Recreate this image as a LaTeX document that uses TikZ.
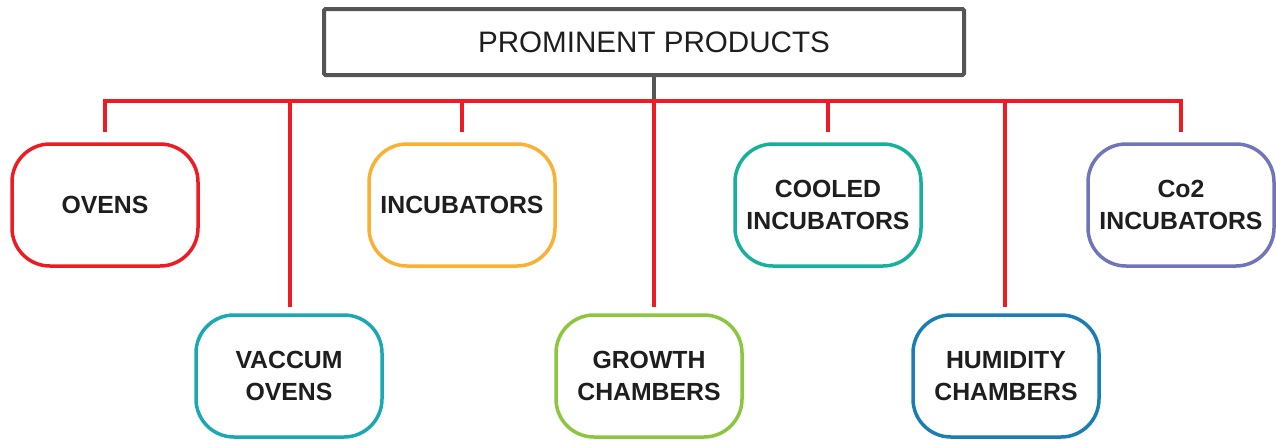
\documentclass[tikz,border=0pt]{standalone}
\usepackage{fontspec}
\setmainfont{Liberation Sans}
\definecolor{cred}{HTML}{ED1C24}
\definecolor{cgray}{HTML}{555555}
\definecolor{ctext}{HTML}{1E1E1E}
\definecolor{cteal}{HTML}{1AA9B2}
\definecolor{corange}{HTML}{F8B133}
\definecolor{cgreen}{HTML}{8CC63F}
\definecolor{cmint}{HTML}{17B09A}
\definecolor{cblue}{HTML}{1A7DB3}
\definecolor{cpurple}{HTML}{6F75B8}
\begin{document}
\begin{tikzpicture}[x=1pt,y=-1pt,
  prod/.style={draw=#1, line width=3.5pt, rounded corners=38pt, fill=white,
    minimum width=186pt, minimum height=122pt, align=center, text=ctext,
    font=\fontsize{24.8}{32}\selectfont\bfseries},
  titlebox/.style={draw=cgray, line width=4pt, rounded corners=1.5pt,
    minimum width=640pt, minimum height=66pt, text=ctext,
    font=\fontsize{29.6}{36}\selectfont},
  redline/.style={draw=cred, line width=3.5pt},
  grayline/.style={draw=cgray, line width=3.5pt}]
\useasboundingbox (0,0) rectangle (1276,439);
\node[titlebox] (title) at (644,42) {\hspace*{20pt}PROMINENT PRODUCTS};
\coordinate (bus) at (654,101);
\node[prod=cred] (ovens) at (105,205) {OVENS};
\node[prod=cteal] (vaccum) at (289,376) {VACCUM\\OVENS};
\node[prod=corange] (incub) at (462,205) {INCUBATORS};
\node[prod=cgreen] (growth) at (649,376) {GROWTH\\CHAMBERS};
\node[prod=cmint] (cooled) at (828,205) {COOLED\\INCUBATORS};
\node[prod=cblue] (humid) at (1006,376) {HUMIDITY\\CHAMBERS};
\node[prod=cpurple] (co2) at (1181,205) {Co2\\INCUBATORS};
\draw[grayline] (title.south -| bus) -- (bus);
\draw[redline] ([yshift=10pt]ovens.north) |- (bus) -| ([yshift=10pt]co2.north);
\draw[redline] ([yshift=10pt]incub.north) -- (incub.north |- bus);
\draw[redline] ([yshift=10pt]cooled.north) -- (cooled.north |- bus);
\draw[redline] ([xshift=1pt,yshift=6pt]vaccum.north) -- ([xshift=1pt]vaccum.north |- bus);
\draw[redline] ([xshift=5pt,yshift=6pt]growth.north) -- (bus);
\draw[redline] ([xshift=-1pt,yshift=6pt]humid.north) -- ([xshift=-1pt]humid.north |- bus);
\end{tikzpicture}
\end{document}
